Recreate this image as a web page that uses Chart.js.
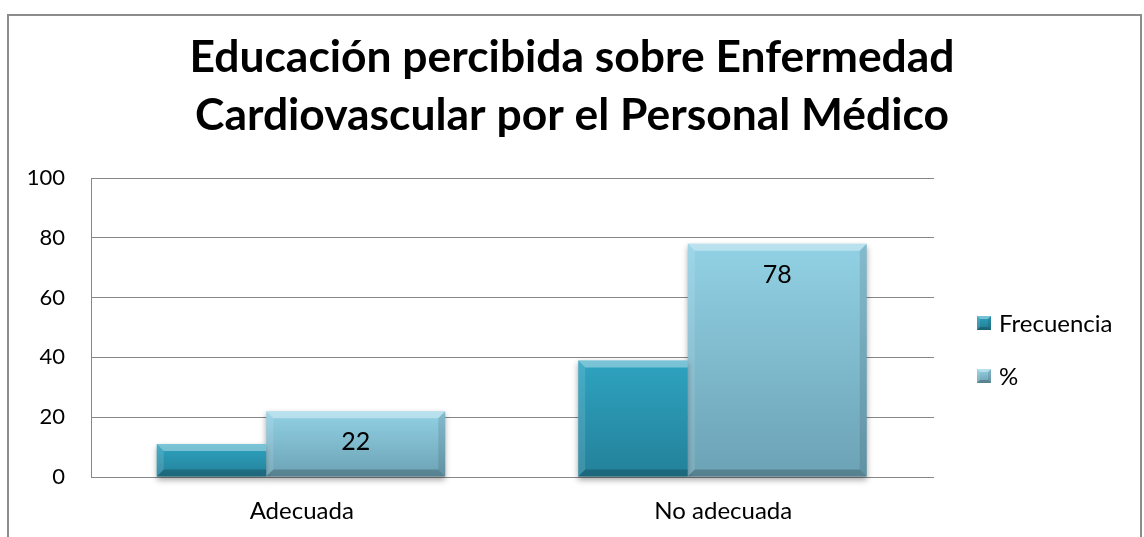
<!DOCTYPE html>
<html>
<head>
<meta charset="utf-8">
<title>Educación percibida</title>
<script src="https://cdn.jsdelivr.net/npm/chart.js@4.4.0/dist/chart.umd.min.js"></script>
<style>
    html, body { margin: 0; padding: 0; background: #fff; }
    canvas { display: block; }
</style>
</head>
<body>
<canvas id="eduChart" width="1144" height="537"></canvas>
<script>
// data
const categories = ['Adecuada', 'No adecuada'];
const seriesNames = ['Frecuencia', '%'];
const frecuencia = [11, 39];
const porcentaje = [22, 78];
const titleLines = ['Educación percibida sobre Enfermedad', 'Cardiovascular por el Personal Médico'];
const yMin = 0;
const yMax = 100;
const yStep = 20;

const FONT = 'Lato, "Open Sans", sans-serif';
const GRID = '#878787';

// base colours (top of bar); the bottom is darkened per bar in barFinish
const barColors = ['#2ea3c0', '#92d1e5'];

// size the title so the first line is about as wide as in the reference (~766px)
function fitTitleSize(text, target) {
    const m = document.createElement('canvas').getContext('2d');
    m.font = 'bold 40px ' + FONT;
    return Math.round(40 * target / m.measureText(text).width * 10) / 10;
}
const titleSize = fitTitleSize(titleLines[0], 766);

function bevel(c, l, t, r, b, s, hideRight) {
    const rr = hideRight ? r : r - s;
    c.fillStyle = 'rgba(255,255,255,0.36)'; // top edge
    c.beginPath(); c.moveTo(l, t); c.lineTo(r, t); c.lineTo(rr, t + s); c.lineTo(l + s, t + s); c.closePath(); c.fill();
    c.fillStyle = 'rgba(255,255,255,0.12)'; // left edge
    c.beginPath(); c.moveTo(l, t); c.lineTo(l + s, t + s); c.lineTo(l + s, b - s); c.lineTo(l, b); c.closePath(); c.fill();
    if (!hideRight) {
        c.fillStyle = 'rgba(0,0,0,0.10)'; // right edge
        c.beginPath(); c.moveTo(r, t); c.lineTo(r, b); c.lineTo(r - s, b - s); c.lineTo(r - s, t + s); c.closePath(); c.fill();
    }
    c.fillStyle = 'rgba(0,0,0,0.2)'; // bottom edge
    c.beginPath(); c.moveTo(l, b); c.lineTo(r, b); c.lineTo(rr, b - s); c.lineTo(l + s, b - s); c.closePath(); c.fill();
}

const frameBorder = {
    id: 'frameBorder',
    beforeDraw(chart) {
        const c = chart.ctx;
        c.save();
        c.fillStyle = '#fff';
        c.fillRect(0, 0, chart.width, chart.height);
        c.strokeStyle = '#8c8c8c';
        c.lineWidth = 2;
        c.strokeRect(8, 15, 1133, 600);
        c.restore();
    }
};

const barShadow = {
    id: 'barShadow',
    beforeDatasetsDraw(chart) {
        const c = chart.ctx;
        c.save();
        c.shadowColor = 'rgba(0,0,0,0.35)';
        c.shadowBlur = 6;
        c.shadowOffsetY = 3;
    },
    afterDatasetsDraw(chart) {
        chart.ctx.restore();
    }
};

const barFinish = {
    id: 'barFinish',
    afterDatasetsDraw(chart) {
        const c = chart.ctx;
        c.save();
        chart.data.datasets.forEach((ds, di) => {
            chart.getDatasetMeta(di).data.forEach(bar => {
                const p = bar.getProps(['x', 'y', 'base', 'width'], true);
                const l = p.x - p.width / 2, r = p.x + p.width / 2;
                const g = c.createLinearGradient(0, p.y, 0, p.base);
                g.addColorStop(0, 'rgba(10,40,55,0)');
                g.addColorStop(1, 'rgba(10,40,55,0.28)');
                c.fillStyle = g;
                c.fillRect(l, p.y, p.width, p.base - p.y);
                bevel(c, l, p.y, r, p.base, 7, di === 0);
            });
        });
        c.restore();
    }
};

const valueLabels = {
    id: 'valueLabels',
    afterDatasetsDraw(chart) {
        const c = chart.ctx;
        const meta = chart.getDatasetMeta(1);
        c.save();
        c.font = '25px ' + FONT;
        c.fillStyle = '#000';
        c.textAlign = 'center';
        c.textBaseline = 'middle';
        meta.data.forEach((bar, i) => {
            c.fillText(String(porcentaje[i]), bar.x, bar.y + 31);
        });
        c.restore();
    }
};

const sideLegend = {
    id: 'sideLegend',
    afterDraw(chart) {
        const c = chart.ctx;
        const x = 977, top = 323, gap = 53, box = 14;
        c.save();
        c.font = '24px ' + FONT;
        c.textBaseline = 'middle';
        chart.data.datasets.forEach((ds, i) => {
            const cy = top + i * gap;
            const y0 = cy - box / 2;
            const g = c.createLinearGradient(0, y0, 0, y0 + box);
            g.addColorStop(0, barColors[i]);
            g.addColorStop(1, i === 0 ? '#217b90' : '#6d9fb0');
            c.fillStyle = g;
            c.fillRect(x, y0, box, box);
            bevel(c, x, y0, x + box, y0 + box, 3, false);
            c.fillStyle = '#000';
            c.fillText(ds.label, x + 22, cy + 1);
        });
        c.restore();
    }
};

new Chart(document.getElementById('eduChart'), {
    type: 'bar',
    data: {
        labels: categories,
        datasets: [
            {
                label: seriesNames[0],
                data: frecuencia,
                backgroundColor: barColors[0],
                borderWidth: 0,
                categoryPercentage: 0.8565,
                barPercentage: 0.6066,
                clip: false
            },
            {
                label: seriesNames[1],
                data: porcentaje,
                backgroundColor: barColors[1],
                borderWidth: 0,
                categoryPercentage: 0.5125,
                barPercentage: 1.657,
                clip: false
            }
        ]
    },
    options: {
        responsive: false,
        animation: false,
        layout: { padding: { left: 8, right: 8, top: 0, bottom: 0 } },
        scales: {
            x: {
                grid: { display: false },
                border: { display: false },
                ticks: { color: '#000', font: { family: FONT, size: 24 }, padding: 12 },
                afterFit: (scale) => { scale.height = 60; }
            },
            y: {
                min: yMin,
                max: yMax,
                ticks: { stepSize: yStep, color: '#000', font: { family: FONT, size: 22 }, padding: 26 },
                grid: { color: GRID, lineWidth: 1, drawTicks: false },
                border: { display: true, color: GRID, width: 1 },
                afterFit: (scale) => { scale.width = 83; }
            },
            // empty right-hand axis: keeps room for the legend so the title stays centred on the frame
            side: {
                position: 'right',
                grid: { display: false },
                border: { display: false },
                ticks: { display: false },
                afterFit: (scale) => { scale.width = 202; }
            }
        },
        plugins: {
            legend: { display: false },
            tooltip: { enabled: false },
            title: {
                display: true,
                text: titleLines,
                color: '#000',
                font: { family: FONT, size: titleSize, weight: 'bold', lineHeight: '58px' },
                padding: { top: 29, bottom: 33 }
            }
        }
    },
    plugins: [frameBorder, barShadow, barFinish, valueLabels, sideLegend]
});
</script>
</body>
</html>
